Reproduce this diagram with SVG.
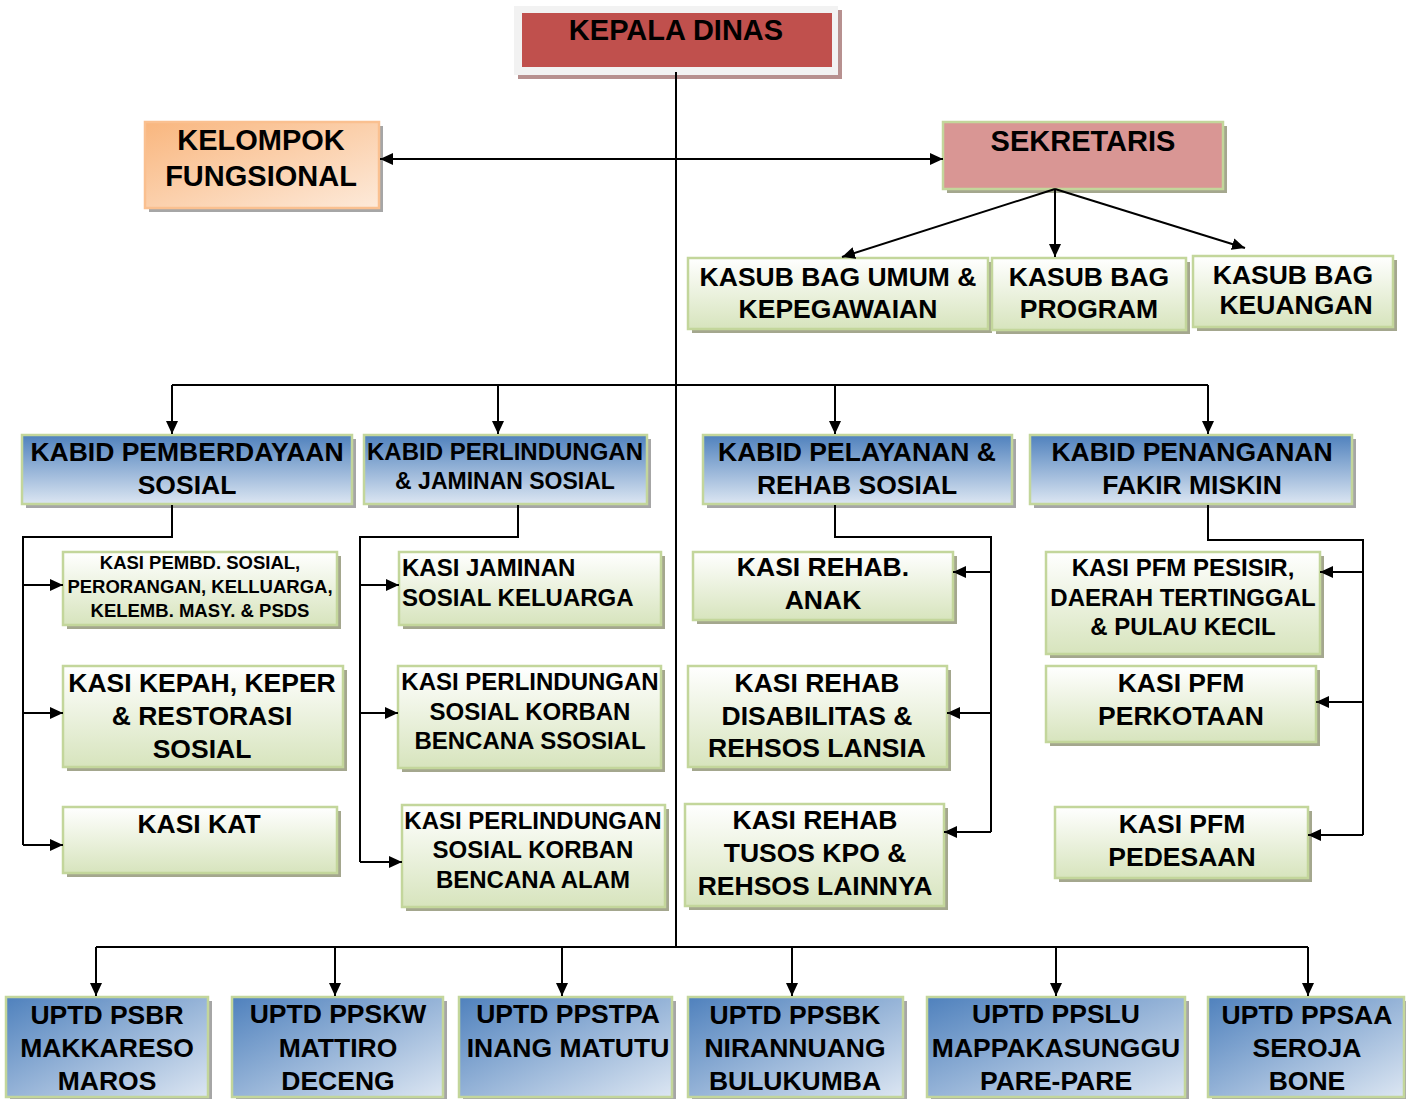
<svg xmlns="http://www.w3.org/2000/svg" width="1406" height="1099" viewBox="0 0 1406 1099">
<defs>
<linearGradient id="gGreen" x1="0" y1="0" x2="0" y2="1"><stop offset="0" stop-color="#FFFFFF"/><stop offset="1" stop-color="#D7E4BD"/></linearGradient>
<linearGradient id="gBlue" x1="0" y1="0" x2="0" y2="1"><stop offset="0" stop-color="#4F81BD"/><stop offset="1" stop-color="#DCE6F2"/></linearGradient>
<linearGradient id="gBlueD" x1="0" y1="0" x2="1" y2="1"><stop offset="0" stop-color="#4F81BD"/><stop offset="1" stop-color="#DCE6F2"/></linearGradient>
<linearGradient id="gOrange" x1="0" y1="0" x2="1" y2="1"><stop offset="0" stop-color="#F9B67E"/><stop offset="1" stop-color="#FDEADA"/></linearGradient>
<marker id="ah" markerUnits="userSpaceOnUse" markerWidth="14" markerHeight="12" refX="13" refY="6" orient="auto"><path d="M0,0 L13,6 L0,12 z" fill="#000"/></marker>
</defs>
<style>
.t{font-family:"Liberation Sans",Arial,sans-serif;font-weight:bold;text-anchor:middle;fill:#000;font-size:26.5px}
.l{text-anchor:start}
.s29{font-size:29px}.s24{font-size:24px}.s18{font-size:18.5px}
.sh{fill:#A4A78E}
.shg{fill:#A6A6A6}
.gr{fill:url(#gGreen);stroke:#C3D69B;stroke-width:2.5}
.bl{fill:url(#gBlue);stroke:#C3D69B;stroke-width:2.5}
.bd{fill:url(#gBlueD);stroke:#C3D69B;stroke-width:2.5}
.c{fill:none;stroke:#000;stroke-width:2}
.a{fill:none;stroke:#000;stroke-width:2;marker-end:url(#ah)}
</style>
<rect width="1406" height="1099" fill="#FFFFFF"/>

<g id="kepala-dinas">
<rect x="518" y="10" width="324" height="69" fill="#B7908F"/>
<rect x="514" y="6" width="324" height="69" fill="#F2F2F2"/>
<rect x="522" y="13" width="310" height="54" fill="#C0504D"/>
<text class="t s29" x="676" y="40">KEPALA DINAS</text>
</g>

<g id="kelompok-fungsional">
<rect x="149" y="126" width="234" height="86" class="shg"/>
<rect x="145" y="122" width="234" height="86" fill="url(#gOrange)" stroke="#FAC090" stroke-width="2.5"/>
<text class="t s29" x="261" y="150">KELOMPOK</text>
<text class="t s29" x="261" y="186">FUNGSIONAL</text>
</g>

<g id="sekretaris">
<rect x="947" y="126" width="280" height="67" class="sh"/>
<rect x="943" y="122" width="280" height="67" fill="#D99694" stroke="#C3D69B" stroke-width="2.5"/>
<text class="t s29" x="1083" y="151">SEKRETARIS</text>
</g>

<g id="kasub-umum">
<rect x="692" y="262" width="300" height="71" class="sh"/>
<rect x="688" y="258" width="300" height="71" class="gr"/>
<text class="t" x="838" y="286">KASUB BAG UMUM &amp;</text>
<text class="t" x="838" y="318">KEPEGAWAIAN</text>
</g>
<g id="kasub-program">
<rect x="996" y="262" width="194" height="72" class="sh"/>
<rect x="992" y="258" width="194" height="72" class="gr"/>
<text class="t" x="1089" y="286">KASUB BAG</text>
<text class="t" x="1089" y="318">PROGRAM</text>
</g>
<g id="kasub-keuangan">
<rect x="1197" y="260" width="200" height="71" class="sh"/>
<rect x="1193" y="256" width="200" height="71" class="gr"/>
<text class="t" x="1293" y="284">KASUB BAG</text>
<text class="t" x="1296" y="314">KEUANGAN</text>
</g>

<g id="kabid-pemberdayaan">
<rect x="26" y="439" width="330" height="69" class="shg"/>
<rect x="22" y="435" width="330" height="69" class="bl"/>
<text class="t" x="187" y="461">KABID PEMBERDAYAAN</text>
<text class="t" x="187" y="494">SOSIAL</text>
</g>
<g id="kabid-perlindungan">
<rect x="368" y="439" width="283" height="69" class="shg"/>
<rect x="364" y="435" width="283" height="69" class="bl"/>
<text class="t s24" x="505" y="460">KABID PERLINDUNGAN</text>
<text class="t" x="505" y="489" style="font-size:23px">&amp; JAMINAN SOSIAL</text>
</g>
<g id="kabid-pelayanan">
<rect x="707" y="439" width="309" height="69" class="shg"/>
<rect x="703" y="435" width="309" height="69" class="bl"/>
<text class="t" x="857" y="461">KABID PELAYANAN &amp;</text>
<text class="t" x="857" y="494">REHAB SOSIAL</text>
</g>
<g id="kabid-penanganan">
<rect x="1034" y="439" width="322" height="69" class="shg"/>
<rect x="1030" y="435" width="322" height="69" class="bl"/>
<text class="t" x="1192" y="461">KABID PENANGANAN</text>
<text class="t" x="1192" y="494">FAKIR MISKIN</text>
</g>

<g id="kasi-pembd">
<rect x="67" y="556" width="274" height="73" class="sh"/>
<rect x="63" y="552" width="274" height="73" class="gr"/>
<text class="t s18" x="200" y="569">KASI PEMBD. SOSIAL,</text>
<text class="t s18" x="200" y="593">PERORANGAN, KELLUARGA,</text>
<text class="t s18" x="200" y="617">KELEMB. MASY. &amp; PSDS</text>
</g>
<g id="kasi-kepah">
<rect x="67" y="670" width="280" height="101" class="sh"/>
<rect x="63" y="666" width="280" height="101" class="gr"/>
<text class="t" x="202" y="692">KASI KEPAH, KEPER</text>
<text class="t" x="202" y="725">&amp; RESTORASI</text>
<text class="t" x="202" y="758">SOSIAL</text>
</g>
<g id="kasi-kat">
<rect x="67" y="811" width="274" height="66" class="sh"/>
<rect x="63" y="807" width="274" height="66" class="gr"/>
<text class="t" x="199" y="833">KASI KAT</text>
</g>

<g id="kasi-jaminan">
<rect x="403" y="556" width="262" height="73" class="sh"/>
<rect x="399" y="552" width="262" height="73" class="gr"/>
<text class="t l s24" x="402" y="576">KASI JAMINAN</text>
<text class="t l s24" x="402" y="606">SOSIAL KELUARGA</text>
</g>
<g id="kasi-perlindungan-sosial">
<rect x="402" y="670" width="263" height="102" class="sh"/>
<rect x="398" y="666" width="263" height="102" class="gr"/>
<text class="t s24" x="530" y="690">KASI PERLINDUNGAN</text>
<text class="t s24" x="530" y="720">SOSIAL KORBAN</text>
<text class="t s24" x="530" y="749">BENCANA SSOSIAL</text>
</g>
<g id="kasi-perlindungan-alam">
<rect x="406" y="809" width="263" height="102" class="sh"/>
<rect x="402" y="805" width="263" height="102" class="gr"/>
<text class="t s24" x="533" y="829">KASI PERLINDUNGAN</text>
<text class="t s24" x="533" y="858">SOSIAL KORBAN</text>
<text class="t s24" x="533" y="888">BENCANA ALAM</text>
</g>

<g id="kasi-rehab-anak">
<rect x="697" y="556" width="260" height="68" class="sh"/>
<rect x="693" y="552" width="260" height="68" class="gr"/>
<text class="t" x="823" y="576">KASI REHAB.</text>
<text class="t" x="823" y="609">ANAK</text>
</g>
<g id="kasi-rehab-disabilitas">
<rect x="692" y="670" width="259" height="101" class="sh"/>
<rect x="688" y="666" width="259" height="101" class="gr"/>
<text class="t" x="817" y="692">KASI REHAB</text>
<text class="t" x="817" y="725">DISABILITAS &amp;</text>
<text class="t" x="817" y="757">REHSOS LANSIA</text>
</g>
<g id="kasi-rehab-tusos">
<rect x="689" y="808" width="259" height="102" class="sh"/>
<rect x="685" y="804" width="259" height="102" class="gr"/>
<text class="t" x="815" y="829">KASI REHAB</text>
<text class="t" x="815" y="862">TUSOS KPO &amp;</text>
<text class="t" x="815" y="895">REHSOS LAINNYA</text>
</g>

<g id="kasi-pfm-pesisir">
<rect x="1050" y="556" width="274" height="102" class="sh"/>
<rect x="1046" y="552" width="274" height="102" class="gr"/>
<text class="t s24" x="1183" y="576">KASI PFM PESISIR,</text>
<text class="t s24" x="1183" y="606">DAERAH TERTINGGAL</text>
<text class="t s24" x="1183" y="635">&amp; PULAU KECIL</text>
</g>
<g id="kasi-pfm-perkotaan">
<rect x="1050" y="670" width="270" height="76" class="sh"/>
<rect x="1046" y="666" width="270" height="76" class="gr"/>
<text class="t" x="1181" y="692">KASI PFM</text>
<text class="t" x="1181" y="725">PERKOTAAN</text>
</g>
<g id="kasi-pfm-pedesaan">
<rect x="1059" y="811" width="253" height="71" class="sh"/>
<rect x="1055" y="807" width="253" height="71" class="gr"/>
<text class="t" x="1182" y="833">KASI PFM</text>
<text class="t" x="1182" y="866">PEDESAAN</text>
</g>

<g id="uptd-psbr">
<rect x="10" y="1001" width="202" height="100" class="shg"/>
<rect x="6" y="997" width="202" height="100" class="bd"/>
<text class="t" x="107" y="1024">UPTD PSBR</text>
<text class="t" x="107" y="1057">MAKKARESO</text>
<text class="t" x="107" y="1090">MAROS</text>
</g>
<g id="uptd-ppskw">
<rect x="236" y="1001" width="211" height="100" class="shg"/>
<rect x="232" y="997" width="211" height="100" class="bd"/>
<text class="t" x="338" y="1023">UPTD PPSKW</text>
<text class="t" x="338" y="1057">MATTIRO</text>
<text class="t" x="338" y="1090">DECENG</text>
</g>
<g id="uptd-ppstpa">
<rect x="463" y="1001" width="213" height="100" class="shg"/>
<rect x="459" y="997" width="213" height="100" class="bd"/>
<text class="t" x="568" y="1023">UPTD PPSTPA</text>
<text class="t" x="568" y="1057">INANG MATUTU</text>
</g>
<g id="uptd-ppsbk">
<rect x="692" y="1001" width="215" height="100" class="shg"/>
<rect x="688" y="997" width="215" height="100" class="bd"/>
<text class="t" x="795" y="1024">UPTD PPSBK</text>
<text class="t" x="795" y="1057">NIRANNUANG</text>
<text class="t" x="795" y="1090">BULUKUMBA</text>
</g>
<g id="uptd-ppslu">
<rect x="931" y="1001" width="258" height="100" class="shg"/>
<rect x="927" y="997" width="258" height="100" class="bd"/>
<text class="t" x="1056" y="1023">UPTD PPSLU</text>
<text class="t" x="1056" y="1057">MAPPAKASUNGGU</text>
<text class="t" x="1056" y="1090">PARE-PARE</text>
</g>
<g id="uptd-ppsaa">
<rect x="1212" y="1001" width="196" height="100" class="shg"/>
<rect x="1208" y="997" width="196" height="100" class="bd"/>
<text class="t" x="1307" y="1024">UPTD PPSAA</text>
<text class="t" x="1307" y="1057">SEROJA</text>
<text class="t" x="1307" y="1090">BONE</text>
</g>

<g id="connectors">
<path class="c" d="M676,72 V947"/>
<path class="a" d="M676,159 H380"/>
<path class="a" d="M676,159 H943"/>
<path class="a" d="M1055,189 L842,257"/>
<path class="a" d="M1055,189 V257"/>
<path class="a" d="M1055,189 L1245,248"/>
<path class="c" d="M172,385 H1208"/>
<path class="a" d="M172,385 V434"/>
<path class="a" d="M498,385 V434"/>
<path class="a" d="M835,385 V434"/>
<path class="a" d="M1208,385 V434"/>
<path class="c" d="M172,505 V537 H23 V845"/>
<path class="a" d="M23,585 H63"/>
<path class="a" d="M23,713 H63"/>
<path class="a" d="M23,845 H63"/>
<path class="c" d="M518,505 V537 H360 V862"/>
<path class="a" d="M360,585 H399"/>
<path class="a" d="M360,713 H398"/>
<path class="a" d="M360,862 H402"/>
<path class="c" d="M835,505 V537 H991 V832"/>
<path class="a" d="M991,572 H953"/>
<path class="a" d="M991,713 H947"/>
<path class="a" d="M991,832 H944"/>
<path class="c" d="M1208,505 V540 H1363 V835"/>
<path class="a" d="M1363,572 H1320"/>
<path class="a" d="M1363,702 H1316"/>
<path class="a" d="M1363,835 H1308"/>
<path class="c" d="M96,947 H1308"/>
<path class="a" d="M96,947 V996"/>
<path class="a" d="M335,947 V996"/>
<path class="a" d="M562,947 V996"/>
<path class="a" d="M792,947 V996"/>
<path class="a" d="M1056,947 V996"/>
<path class="a" d="M1308,947 V996"/>
</g>
</svg>
